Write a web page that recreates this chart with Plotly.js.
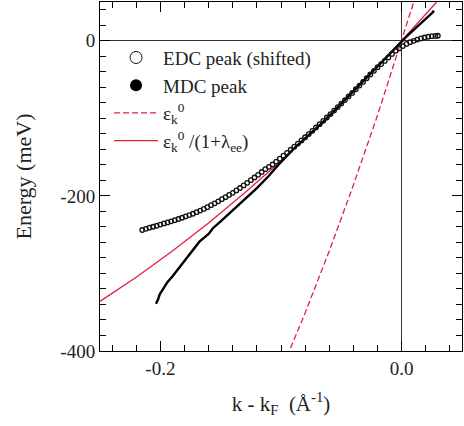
<!DOCTYPE html>
<html>
<head>
<meta charset="utf-8">
<script src="https://cdn.plot.ly/plotly-3.0.1.min.js"></script>
<style>html,body{margin:0;padding:0;background:#fff;}</style>
</head>
<body>
<div id="chart" style="width:464px;height:426px;"></div>
<script>
// EDC peak (shifted): open circles
const edcK = [-0.215,-0.212,-0.209,-0.206,-0.203,-0.200,-0.197,-0.194,-0.191,-0.188,-0.185,-0.182,
  -0.179,-0.176,-0.173,-0.170,-0.167,-0.164,-0.161,-0.158,-0.155,-0.152,-0.149,-0.146,-0.143,-0.140,
  -0.137,-0.134,-0.131,-0.128,-0.125,-0.122,-0.119,-0.116,-0.113,-0.110,
  -0.107,-0.104,-0.101,-0.098,-0.095,-0.092,-0.089,-0.086,-0.083,-0.080,-0.077,-0.074,-0.071,-0.068,
  -0.065,-0.062,-0.059,-0.056,-0.053,-0.050,-0.047,-0.044,-0.041,-0.038,-0.035,-0.032,-0.029,-0.026,
  -0.023,-0.020,-0.017,-0.014,-0.011,-0.008,-0.005,-0.002,0.001,0.004,0.007,0.010,0.013,0.016,0.019,
  0.022,0.025,0.028,0.030];
const edcE = [-244,-242.5,-241,-239.8,-238.5,-237,-235.5,-234.2,-232.8,-231.3,-229.8,-228.2,
  -226.5,-224.8,-223,-221,-219,-216.8,-214.5,-212,-209.6,-207,-204.3,-201.6,-198.8,-196,
  -193,-189.8,-186.5,-183.2,-179.8,-176.3,-172.8,-169.2,-165.6,-162.5,
  -159.5,-155.8,-152,-148.2,-144.5,-140.5,-136.5,-132.5,-128.5,-124.4,-120.3,-116.1,-111.8,-107.5,
  -103.2,-98.9,-94.5,-90,-85.5,-81,-76.4,-71.8,-67.2,-62.5,-57.8,-53,-48.3,-43.5,
  -38.8,-34,-30,-26,-21.5,-17,-13,-9.8,-6.8,-4,-1.8,0,1.6,3,4.2,
  5.2,5.9,6.3,6.5];

// MDC peak: filled points (dense, drawn as a line)
const mdcK = [-0.2036,-0.2028,-0.2020,-0.2005,-0.1994,-0.1970,-0.1940,-0.1900,-0.1870,-0.1856,-0.1820,
  -0.1787,-0.1730,-0.1676,-0.1600,-0.1566,-0.1500,-0.1400,-0.1300,-0.1260,-0.1200,-0.1100,-0.1010,
  -0.0900,-0.0800,-0.0700,-0.0625,-0.0500,-0.0400,-0.0300,-0.0180,-0.0100,0.0000,0.0050,0.0100,
  0.0150,0.0200,0.0240,0.0260,0.0265];
const mdcE = [-339,-335,-334,-327,-324,-318,-311,-304,-298,-295,-288,
  -281,-270,-259,-249,-242,-233,-219,-205,-199,-190,-174,-158,
  -140,-126,-112,-101,-81,-65,-49,-29,-16,0,7,14,
  21,28.5,34,37,39];

// bare dispersion eps_k^0 (dashed)
const bareK = [-0.095,-0.080,-0.060,-0.040,-0.020,0.000,0.010];
const bareE = [-407,-351,-271,-186,-96,0,50];

// renormalised dispersion eps_k^0/(1+lambda_ee) (solid)
const renK = [-0.25,-0.22,-0.19,-0.16,-0.13,-0.10,-0.07,-0.04,-0.02,0.0,0.029];
const renE = [-336,-305,-271,-235,-196,-155,-111,-65,-33,0,50];

const xTickVals = [-0.2, 0.0];
const xTickText = ['-0.2', '0.0'];
const yTickVals = [-400, -200, 0];
const yTickText = ['-400', '-200', '0'];

const RED = '#e3203d';
const FONT = "'Liberation Serif', serif";

const traces = [
  {x: renK, y: renE, mode: 'lines', line: {color: RED, width: 1.3},
   name: 'ε<sub>k</sub><sup>0</sup> /(1+λ<sub>ee</sub>)', legendrank: 4},
  {x: bareK, y: bareE, mode: 'lines', line: {color: RED, width: 1.3, dash: '6px,3px'},
   name: 'ε<sub>k</sub><sup>0</sup>', legendrank: 3},
  {x: mdcK, y: mdcE, mode: 'lines', line: {color: '#000', width: 2.4},
   showlegend: false, name: 'MDC peak'},
  {x: edcK, y: edcE, mode: 'markers',
   marker: {symbol: 'circle-open', size: 4.5, color: '#111', line: {width: 1.3, color: '#111'}},
   showlegend: false, name: 'EDC peak (shifted)'},
  {x: [null], y: [null], mode: 'markers',
   marker: {symbol: 'circle-open', size: 12, color: '#111', line: {width: 1, color: '#111'}},
   name: 'EDC peak (shifted)', legendrank: 1},
  {x: [null], y: [null], mode: 'markers', marker: {color: '#000', size: 12, symbol: 'circle'},
   name: 'MDC peak', legendrank: 2}
];

const axisCommon = {
  showline: true, linecolor: '#000', linewidth: 1, mirror: 'ticks',
  ticks: 'inside', ticklen: 10, tickwidth: 1, tickcolor: '#000',
  showgrid: false, zeroline: true, zerolinecolor: '#333', zerolinewidth: 1,
  tickfont: {family: FONT, size: 19, color: '#222'}
};

const layout = {
  width: 464, height: 426,
  margin: {l: 100, r: 2, t: 2, b: 75},
  paper_bgcolor: '#fff', plot_bgcolor: '#fff',
  font: {family: FONT, color: '#222'},
  showlegend: true,
  legend: {x: 0.025, y: 0.895, xanchor: 'left', yanchor: 'top', bgcolor: 'rgba(0,0,0,0)',
           font: {family: FONT, size: 19, color: '#222'}, itemsizing: 'trace',
           itemwidth: 44, tracegroupgap: 0},
  xaxis: Object.assign({}, axisCommon, {
    range: [-0.25, 0.05], tickmode: 'array', tickvals: xTickVals, ticktext: xTickText,
    minor: {dtick: 0.02, tick0: 0, ticks: 'inside', ticklen: 6, tickcolor: '#000', tickwidth: 1, showgrid: false},
    title: {text: 'k - k<sub>F</sub>  (Å<sup>-1</sup>)', font: {family: FONT, size: 21, color: '#222'}, standoff: 18}
  }),
  yaxis: Object.assign({}, axisCommon, {
    range: [-400, 50], tickmode: 'array', tickvals: yTickVals, ticktext: yTickText,
    minor: {dtick: 20, tick0: 0, ticks: 'inside', ticklen: 6, tickcolor: '#000', tickwidth: 1, showgrid: false},
    title: {text: 'Energy (meV)', font: {family: FONT, size: 22, color: '#222'}, standoff: 22}
  })
};

Plotly.newPlot('chart', traces, layout, {staticPlot: true, displayModeBar: false});
</script>
</body>
</html>
